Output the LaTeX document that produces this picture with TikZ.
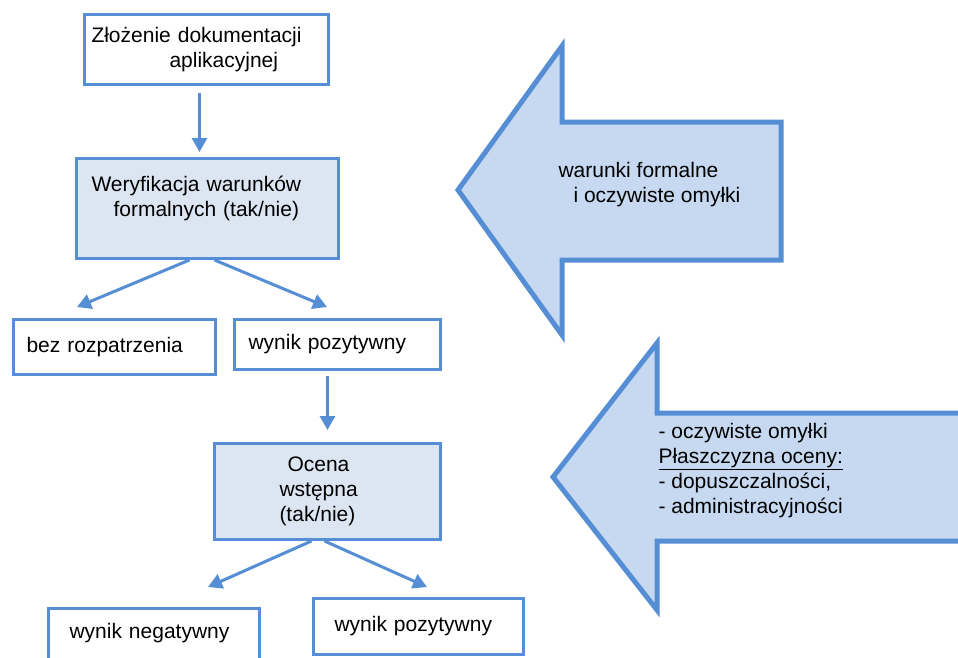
\documentclass[tikz,border=0pt]{standalone}
\usepackage{fontspec}
\setmainfont{Liberation Sans}
\usetikzlibrary{arrows.meta,calc}
\definecolor{edgeblue}{RGB}{85,142,213}
\definecolor{boxfill}{RGB}{220,230,242}
\definecolor{arrowfill}{RGB}{198,217,241}
\tikzset{
  box/.style={draw=edgeblue, line width=3pt, anchor=north west, align=left},
  shadedbox/.style={box, fill=boxfill},
  conn/.style={draw=edgeblue, line width=3pt, -{Triangle[length=14pt,width=15pt]}},
  bigarrow/.style={draw=edgeblue, line width=5pt, fill=arrowfill, line join=miter},
}
\begin{document}
\begin{tikzpicture}[x=1pt, y=-1pt, font=\fontsize{21}{25}\selectfont]
    \useasboundingbox (0,0) rectangle (958,657);
    \clip (0,0) rectangle (958,657);

    % wide arrows on the right
    \filldraw[bigarrow] (458,190) -- (562,46) -- (562,122) -- (781,122) -- (781,260) -- (562,260) -- (562,335) -- cycle;
    \filldraw[bigarrow] (553,477) -- (657,343) -- (657,413) -- (1000,413) -- (1000,541) -- (657,541) -- (657,610) -- cycle;

    \node[anchor=west, align=left] (warunki) at (555,185) {warunki formalne\\\hspace*{15pt}i oczywiste omyłki};
    \node[anchor=west, align=left] (plaszcz) at (655,471) {- oczywiste omyłki\\\underline{Płaszczyzna oceny:}\\- dopuszczalności,\\- administracyjności};

    % flow boxes
    \node[box, text width=230pt, inner xsep=7pt, minimum height=70pt] (zlozenie) at (83,13)
        {Złożenie dokumentacji\\\hspace*{78pt}aplikacyjnej};
    \node[shadedbox, text width=232pt, inner xsep=15pt, minimum height=100pt] (weryf) at (75,157)
        {Weryfikacja warunków\\\hspace*{22pt}formalnych (tak/nie)\\\mbox{}};
    \node[box, text width=176pt, inner xsep=13pt, minimum height=55pt] (bez) at (12,318) {bez rozpatrzenia};
    \node[box, text width=178pt, inner xsep=14pt, minimum height=50pt] (pozyt1) at (233,318) {wynik pozytywny};
    \node[shadedbox, text width=210pt, inner xsep=8pt, minimum height=96pt] (ocena) at (213,442)
        {\hspace*{65pt}Ocena\\\hspace*{57pt}wstępna\\\hspace*{57pt}(tak/nie)};
    \node[box, text width=169pt, inner xsep=21pt, minimum height=70pt] (negat) at (47,607)
        {wynik negatywny\\\mbox{}};
    \node[box, text width=168pt, inner xsep=21pt, minimum height=56pt] (pozyt2) at (312,597) {wynik pozytywny};

    \coordinate (bez-in) at (77,307);
    \coordinate (pozyt1-in) at (327,307);
    \coordinate (negat-in) at (208,587);
    \coordinate (pozyt2-in) at (427,587);

    % connectors
    \draw[conn, shorten <=7pt, shorten >=5pt] ([xshift=-7pt]zlozenie.south) -- ([xshift=-7pt]zlozenie.south |- weryf.north);
    \draw[conn] ([xshift=-18pt]weryf.south) -- (bez-in);
    \draw[conn] ([xshift=7pt]weryf.south) -- (pozyt1-in);
    \draw[conn, shorten <=5pt, shorten >=12pt] (pozyt1.south -| ocena.north) -- (ocena.north);
    \draw[conn] ([xshift=-16pt]ocena.south) -- (negat-in);
    \draw[conn] ([xshift=-3pt]ocena.south) -- (pozyt2-in);
\end{tikzpicture}
\end{document}
